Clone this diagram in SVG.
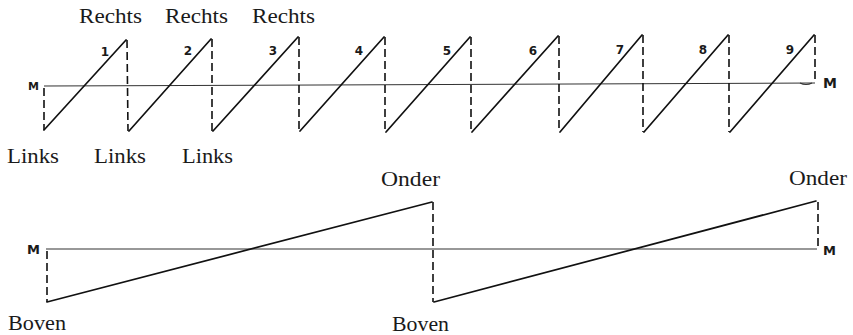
<svg xmlns="http://www.w3.org/2000/svg" width="853" height="335" viewBox="0 0 853 335">
<style>
.lbl{font-family:"Liberation Serif","Times New Roman",serif;font-size:22px;fill:#1a1a1a}
.num{font-family:"DejaVu Sans","Liberation Sans",sans-serif;font-size:12px;font-weight:bold;fill:#1a1a1a;text-anchor:middle}
.m{font-family:"DejaVu Sans","Liberation Sans",sans-serif;font-size:14px;font-weight:bold;fill:#1a1a1a}
.axis{stroke:#333;stroke-width:1.1;fill:none}
.saw{stroke:#111;stroke-width:1.7;fill:none;stroke-linejoin:round;stroke-linecap:round}
.dash{stroke:#111;stroke-width:1.6;fill:none;stroke-dasharray:8,4}
</style>
<rect width="853" height="335" fill="#fff"/>
<g id="top">
  <line class="axis" x1="44" y1="86" x2="815" y2="83"/>
  <path class="axis" d="M800,83 q6,3 12,0"/>
  <g id="top-saw">
    <line class="saw" x1="44" y1="130" x2="126" y2="40"/>
    <line class="saw" x1="129" y1="131" x2="211" y2="39"/>
    <line class="saw" x1="213" y1="131" x2="298" y2="37"/>
    <line class="saw" x1="300" y1="131" x2="384" y2="37"/>
    <line class="saw" x1="386" y1="132" x2="470" y2="37"/>
    <line class="saw" x1="472" y1="132" x2="558" y2="36"/>
    <line class="saw" x1="560" y1="132" x2="642" y2="35"/>
    <line class="saw" x1="644" y1="132" x2="728" y2="35"/>
    <line class="saw" x1="730" y1="132" x2="814" y2="35"/>
  </g>
  <g id="top-dash">
    <line class="dash" x1="44" y1="88" x2="44" y2="130"/>
    <line class="dash" x1="127" y1="40" x2="128" y2="131"/>
    <line class="dash" x1="212" y1="39" x2="212" y2="131"/>
    <line class="dash" x1="299" y1="37" x2="299" y2="131"/>
    <line class="dash" x1="385" y1="37" x2="385" y2="132"/>
    <line class="dash" x1="471" y1="37" x2="471" y2="132"/>
    <line class="dash" x1="559" y1="36" x2="559" y2="132"/>
    <line class="dash" x1="643" y1="35" x2="643" y2="132"/>
    <line class="dash" x1="729" y1="35" x2="729" y2="132"/>
    <line class="dash" x1="815" y1="35" x2="815" y2="83"/>
  </g>
  <g id="top-numbers">
    <text class="num" x="105" y="56">1</text>
    <text class="num" x="188" y="55">2</text>
    <text class="num" x="273" y="55">3</text>
    <text class="num" x="359" y="55">4</text>
    <text class="num" x="447" y="55">5</text>
    <text class="num" x="533" y="55">6</text>
    <text class="num" x="620" y="54">7</text>
    <text class="num" x="703" y="54">8</text>
    <text class="num" x="790" y="54">9</text>
  </g>
  <text class="m" x="28" y="90" style="font-size:11px">M</text>
  <text class="m" x="823" y="88">M</text>
  <g id="top-labels">
    <text class="lbl" x="79" y="23" textLength="63" lengthAdjust="spacingAndGlyphs">Rechts</text>
    <text class="lbl" x="165" y="23" textLength="63" lengthAdjust="spacingAndGlyphs">Rechts</text>
    <text class="lbl" x="252" y="23" textLength="63" lengthAdjust="spacingAndGlyphs">Rechts</text>
    <text class="lbl" x="7" y="163" textLength="52" lengthAdjust="spacingAndGlyphs">Links</text>
    <text class="lbl" x="94" y="163" textLength="52" lengthAdjust="spacingAndGlyphs">Links</text>
    <text class="lbl" x="182" y="163" textLength="51" lengthAdjust="spacingAndGlyphs">Links</text>
  </g>
</g>
<g id="bottom">
  <line class="axis" x1="46" y1="249" x2="817" y2="249"/>
  <line class="saw" x1="47" y1="302" x2="432" y2="202"/>
  <line class="saw" x1="434" y1="302" x2="816" y2="201"/>
  <line class="dash" x1="47" y1="251" x2="47" y2="302"/>
  <line class="dash" x1="433" y1="202" x2="433" y2="302"/>
  <line class="dash" x1="818" y1="202" x2="818" y2="249"/>
  <text class="m" x="27" y="254" style="font-size:13px">M</text>
  <text class="m" x="823" y="255" style="font-size:13px">M</text>
  <text class="lbl" x="381" y="186" textLength="59" lengthAdjust="spacingAndGlyphs">Onder</text>
  <text class="lbl" x="789" y="185" textLength="58" lengthAdjust="spacingAndGlyphs">Onder</text>
  <text class="lbl" x="8" y="330" textLength="58" lengthAdjust="spacingAndGlyphs">Boven</text>
  <text class="lbl" x="392" y="331" textLength="57" lengthAdjust="spacingAndGlyphs">Boven</text>
</g>
</svg>
